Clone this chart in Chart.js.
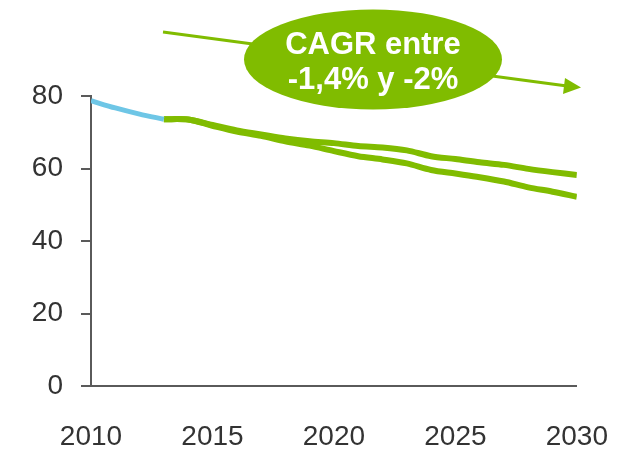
<!DOCTYPE html>
<html>
<head>
<meta charset="utf-8">
<script src="https://cdn.jsdelivr.net/npm/chart.js@4/dist/chart.umd.min.js"></script>
<style>
  html, body { margin: 0; padding: 0; background: #fff; }
  #wrap { width: 642px; height: 449px; position: relative; }
</style>
</head>
<body>
<div id="wrap"><canvas id="chart-div"></canvas></div>
<script>
const histYears = [2010, 2011, 2012, 2013];
const histValues = [78.7, 76.7, 75.0, 73.6];

const projYears = [2013, 2014, 2015, 2016, 2017, 2018, 2019, 2020, 2021, 2022, 2023, 2024, 2025, 2026, 2027, 2028, 2029, 2030];
const upperValues = [73.6, 73.5, 72.0, 70.5, 69.4, 68.3, 67.5, 67.0, 66.2, 65.8, 65.0, 63.4, 62.6, 61.7, 61.0, 59.9, 59.0, 58.2];
const lowerValues = [73.6, 73.5, 71.8, 70.2, 69.0, 67.5, 66.3, 64.8, 63.4, 62.5, 61.4, 59.6, 58.6, 57.6, 56.4, 54.8, 53.6, 52.2];

const yTicks = [0, 20, 40, 60, 80];
const xTicks = [2010, 2015, 2020, 2025, 2030];
const calloutLines = ['CAGR entre', '-1,4% y -2%'];

const green = '#80bc00';
const blue = '#6ec6e6';
const axisGrey = '#5a5a5a';

const toPoints = (xs, ys) => xs.map((x, i) => ({ x: x, y: ys[i] }));

// callout ellipse + trend arrow drawn above the plot
const callout = {
  id: 'callout',
  afterDraw(chart) {
    const ctx = chart.ctx;
    ctx.save();
    // arrow line
    ctx.strokeStyle = green;
    ctx.lineWidth = 3;
    ctx.beginPath();
    ctx.moveTo(163, 32);
    ctx.lineTo(567, 86);
    ctx.stroke();
    ctx.fillStyle = green;
    ctx.beginPath();
    ctx.moveTo(581, 87.5);
    ctx.lineTo(565, 78);
    ctx.lineTo(563, 94);
    ctx.closePath();
    ctx.fill();
    // ellipse
    ctx.beginPath();
    ctx.ellipse(373, 59.5, 129, 50, 0, 0, Math.PI * 2);
    ctx.fill();
    // text
    ctx.fillStyle = '#ffffff';
    ctx.font = 'bold 31px "Liberation Sans", Arial, sans-serif';
    ctx.textAlign = 'center';
    ctx.textBaseline = 'alphabetic';
    ctx.fillText(calloutLines[0], 373, 54);
    ctx.fillText(calloutLines[1], 373, 89);
    ctx.restore();
  }
};

new Chart(document.getElementById('chart-div'), {
  type: 'scatter',
  data: {
    datasets: [{
      data: toPoints(histYears, histValues),
      borderColor: blue,
      borderWidth: 5,
      showLine: true,
      pointRadius: 0,
      tension: 0.3
    }, {
      data: toPoints(projYears, upperValues),
      borderColor: green,
      borderWidth: 6,
      showLine: true,
      pointRadius: 0,
      tension: 0.3
    }, {
      data: toPoints(projYears, lowerValues),
      borderColor: green,
      borderWidth: 6,
      showLine: true,
      pointRadius: 0,
      tension: 0.3
    }]
  },
  options: {
    responsive: true,
    maintainAspectRatio: false,
    animation: false,
    layout: { padding: { left: 0, right: 62, top: 96, bottom: 0 } },
    plugins: { legend: { display: false }, tooltip: { enabled: false } },
    scales: {
      x: {
        type: 'linear',
        min: 2010,
        max: 2030,
        afterBuildTicks: (scale) => { scale.ticks = xTicks.map(v => ({ value: v })); },
        afterFit: (scale) => { scale.height = 63; },
        grid: { display: false, drawTicks: false },
        border: { display: true, color: axisGrey, width: 2 },
        ticks: {
          padding: 34,
          color: '#333',
          font: { family: '"Liberation Sans", Arial, sans-serif', size: 28 },
          maxRotation: 0,
          callback: (v) => String(v)
        }
      },
      y: {
        min: 0,
        max: 80,
        afterBuildTicks: (scale) => { scale.ticks = yTicks.map(v => ({ value: v })); },
        afterFit: (scale) => { scale.width = 91; },
        grid: { drawOnChartArea: false, drawTicks: true, tickLength: 10, color: axisGrey, lineWidth: 2 },
        border: { display: true, color: axisGrey, width: 2 },
        ticks: {
          padding: 18,
          color: '#333',
          font: { family: '"Liberation Sans", Arial, sans-serif', size: 28 }
        }
      }
    }
  },
  plugins: [callout]
});
</script>
</body>
</html>
